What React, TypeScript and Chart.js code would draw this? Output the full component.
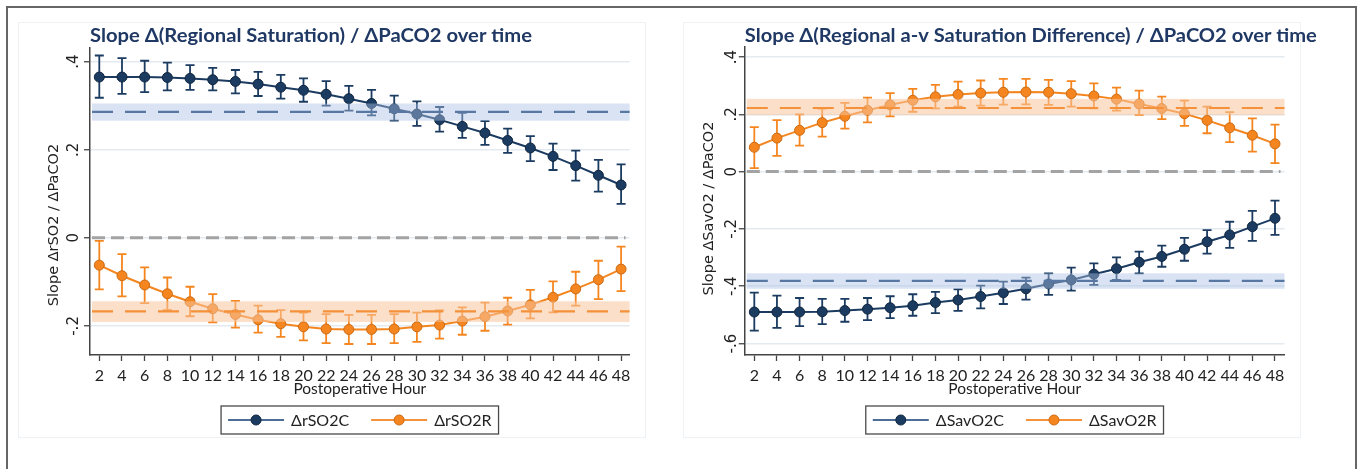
import React, { useEffect, useRef } from "react";
import { Chart, registerables } from "chart.js";
Chart.register(...registerables);

// ---------- data ----------
const HOURS = [2, 4, 6, 8, 10, 12, 14, 16, 18, 20, 22, 24, 26, 28, 30, 32, 34, 36, 38, 40, 42, 44, 46, 48];

const RSO2C = [0.365, 0.365, 0.365, 0.364, 0.362, 0.359, 0.355, 0.349, 0.342, 0.335, 0.326, 0.316, 0.305, 0.293, 0.281, 0.268, 0.253, 0.238, 0.221, 0.204, 0.185, 0.164, 0.142, 0.12];
const RSO2C_HI = [0.414, 0.408, 0.402, 0.398, 0.392, 0.386, 0.381, 0.377, 0.37, 0.362, 0.356, 0.345, 0.336, 0.323, 0.31, 0.297, 0.284, 0.265, 0.248, 0.231, 0.214, 0.198, 0.177, 0.167];
const RSO2C_LO = [0.318, 0.327, 0.331, 0.335, 0.336, 0.335, 0.328, 0.322, 0.316, 0.309, 0.3, 0.289, 0.278, 0.266, 0.254, 0.241, 0.227, 0.211, 0.193, 0.174, 0.154, 0.13, 0.105, 0.077];

const RSO2R = [-0.062, -0.086, -0.107, -0.127, -0.145, -0.161, -0.174, -0.186, -0.195, -0.202, -0.207, -0.208, -0.208, -0.207, -0.202, -0.198, -0.189, -0.179, -0.166, -0.152, -0.135, -0.116, -0.095, -0.071];
const RSO2R_HI = [-0.007, -0.037, -0.067, -0.09, -0.111, -0.128, -0.143, -0.154, -0.164, -0.17, -0.173, -0.175, -0.175, -0.173, -0.17, -0.165, -0.158, -0.147, -0.136, -0.118, -0.099, -0.077, -0.052, -0.02];
const RSO2R_LO = [-0.117, -0.133, -0.148, -0.164, -0.178, -0.192, -0.204, -0.215, -0.225, -0.233, -0.239, -0.241, -0.241, -0.239, -0.236, -0.229, -0.22, -0.211, -0.197, -0.183, -0.169, -0.154, -0.139, -0.121];

const SAVO2C = [-0.49, -0.49, -0.49, -0.489, -0.485, -0.48, -0.475, -0.468, -0.457, -0.448, -0.436, -0.423, -0.409, -0.392, -0.378, -0.358, -0.339, -0.316, -0.296, -0.271, -0.245, -0.221, -0.192, -0.163];
const SAVO2C_HI = [-0.422, -0.433, -0.441, -0.444, -0.444, -0.441, -0.435, -0.428, -0.42, -0.411, -0.398, -0.384, -0.37, -0.355, -0.335, -0.32, -0.299, -0.279, -0.258, -0.231, -0.204, -0.175, -0.137, -0.101];
const SAVO2C_LO = [-0.555, -0.545, -0.539, -0.532, -0.524, -0.518, -0.511, -0.503, -0.494, -0.486, -0.477, -0.462, -0.447, -0.43, -0.415, -0.395, -0.378, -0.355, -0.332, -0.311, -0.286, -0.266, -0.242, -0.221];

const SAVO2R = [0.085, 0.117, 0.144, 0.171, 0.193, 0.214, 0.233, 0.249, 0.261, 0.269, 0.274, 0.277, 0.278, 0.277, 0.272, 0.264, 0.253, 0.236, 0.22, 0.202, 0.179, 0.153, 0.127, 0.097];
const SAVO2R_HI = [0.155, 0.18, 0.2, 0.22, 0.24, 0.258, 0.274, 0.289, 0.303, 0.314, 0.318, 0.324, 0.324, 0.32, 0.316, 0.308, 0.293, 0.283, 0.262, 0.248, 0.227, 0.208, 0.186, 0.164];
const SAVO2R_LO = [0.012, 0.055, 0.091, 0.122, 0.15, 0.172, 0.193, 0.209, 0.221, 0.227, 0.23, 0.234, 0.235, 0.233, 0.227, 0.221, 0.213, 0.198, 0.183, 0.16, 0.134, 0.103, 0.07, 0.03];

// overall slopes (dashed) with confidence bands: [mean, lower, upper]
const LEFT_MEAN_C = [0.286, 0.266, 0.305];
const LEFT_MEAN_R = [-0.167, -0.191, -0.144];
const RIGHT_MEAN_C = [-0.381, -0.409, -0.355];
const RIGHT_MEAN_R = [0.222, 0.197, 0.254];

const LEFT_Y_TICKS = [0.4, 0.2, 0, -0.2];
const LEFT_Y_LABELS = [".4", ".2", "0", "-.2"];
const RIGHT_Y_TICKS = [0.4, 0.2, 0, -0.2, -0.4, -0.6];
const RIGHT_Y_LABELS = [".4", ".2", "0", "-.2", "-.4", "-.6"];

// ---------- styles ----------
const NAVY = "#1b3b61";
const NAVY_EDGE = "#10263f";
const NAVY_LEGEND_LINE = "#4d6d96";
const ORANGE = "#f5861f";
const ORANGE_EDGE = "#cc6a14";
const ORANGE_LEGEND_LINE = "#f5923c";
const BLUE_BAND = "rgba(170,192,228,0.45)";
const ORANGE_BAND = "rgba(248,197,157,0.55)";
const BLUE_DASH = "#5878a3";
const ORANGE_DASH = "#f4913a";
const TITLE_COLOR = "#1f3864";
const TEXT = "#222";
const AXIS = "#444";

type Series = { label: string; mean: number[]; lo: number[]; hi: number[]; color: string; edge: string; legendLine: string };
type RefLine = { vals: number[]; line: string; band: string };
type Panel = {
  title: string; titleWidth: number; yTitle: string; yTitleCenter: number;
  yTicks: number[]; yLabels: string[]; yMin: number; yMax: number; xMin: number; xMax: number;
  tickOffset: number; series: Series[]; refs: RefLine[];
  canvasLeft: number; canvasWidth: number; pad: { left: number; right: number; top: number; bottom: number };
};

const PANELS: Panel[] = [
  {
    title: "Slope \u0394(Regional Saturation) / \u0394PaCO2 over time", titleWidth: 442,
    yTitle: "Slope \u0394rSO2 / \u0394PaCO2", yTitleCenter: 225,
    yTicks: LEFT_Y_TICKS, yLabels: LEFT_Y_LABELS, yMin: -0.266, yMax: 0.431, xMin: 1.18, xMax: 48.75,
    tickOffset: 16,
    series: [
      { label: "\u0394rSO2C", mean: RSO2C, lo: RSO2C_LO, hi: RSO2C_HI, color: NAVY, edge: NAVY_EDGE, legendLine: NAVY_LEGEND_LINE },
      { label: "\u0394rSO2R", mean: RSO2R, lo: RSO2R_LO, hi: RSO2R_HI, color: ORANGE, edge: ORANGE_EDGE, legendLine: ORANGE_LEGEND_LINE },
    ],
    refs: [
      { vals: LEFT_MEAN_C, line: BLUE_DASH, band: BLUE_BAND },
      { vals: LEFT_MEAN_R, line: ORANGE_DASH, band: ORANGE_BAND },
    ],
    canvasLeft: 0, canvasWidth: 680, pad: { left: 30, right: 50.4, top: 48, bottom: 64 },
  },
  {
    title: "Slope \u0394(Regional a-v Saturation Difference) / \u0394PaCO2 over time", titleWidth: 572,
    yTitle: "Slope \u0394SavO2 / \u0394PaCO2", yTitleCenter: 208.5,
    yTicks: RIGHT_Y_TICKS, yLabels: RIGHT_Y_LABELS, yMin: -0.64, yMax: 0.436, xMin: 1.16, xMax: 48.84,
    tickOffset: 13,
    series: [
      { label: "\u0394SavO2C", mean: SAVO2C, lo: SAVO2C_LO, hi: SAVO2C_HI, color: NAVY, edge: NAVY_EDGE, legendLine: NAVY_LEGEND_LINE },
      { label: "\u0394SavO2R", mean: SAVO2R, lo: SAVO2R_LO, hi: SAVO2R_HI, color: ORANGE, edge: ORANGE_EDGE, legendLine: ORANGE_LEGEND_LINE },
    ],
    refs: [
      { vals: RIGHT_MEAN_C, line: BLUE_DASH, band: BLUE_BAND },
      { vals: RIGHT_MEAN_R, line: ORANGE_DASH, band: ORANGE_BAND },
    ],
    canvasLeft: 680, canvasWidth: 677, pad: { left: 4.8, right: 72.5, top: 46.7, bottom: 64 },
  },
];

const H = 469;
const Y_AXIS_W = 60;
const X_AXIS_H = 50;

function makeDecor(p: Panel) {
  return {
    id: "decor",
    beforeDatasetsDraw(chart: any) {
      const { ctx, chartArea: ca, scales } = chart;
      const x = scales.x, y = scales.y;
      ctx.save();
      const y0 = y.getPixelForValue(0);
      ctx.strokeStyle = "#a3a3a3";
      ctx.lineWidth = 3;
      ctx.setLineDash([13, 6]);
      ctx.beginPath();
      ctx.moveTo(ca.left + 2, y0);
      ctx.lineTo(ca.right - 4, y0);
      ctx.stroke();
      ctx.setLineDash([]);
      p.series.forEach((s) => {
        ctx.strokeStyle = s.color;
        ctx.lineWidth = 1.8;
        HOURS.forEach((h, i) => {
          const px = x.getPixelForValue(h);
          const a = y.getPixelForValue(s.lo[i]);
          const b = y.getPixelForValue(s.hi[i]);
          ctx.beginPath();
          ctx.moveTo(px, a); ctx.lineTo(px, b);
          ctx.moveTo(px - 4.5, a); ctx.lineTo(px + 4.5, a);
          ctx.moveTo(px - 4.5, b); ctx.lineTo(px + 4.5, b);
          ctx.stroke();
        });
      });
      ctx.restore();
    },
    afterDatasetsDraw(chart: any) {
      const { ctx, chartArea: ca, scales } = chart;
      const y = scales.y;
      ctx.save();
      p.refs.forEach((r) => {
        const yl = y.getPixelForValue(r.vals[1]);
        const yh = y.getPixelForValue(r.vals[2]);
        ctx.fillStyle = r.band;
        ctx.fillRect(ca.left + 2, yh, ca.right - ca.left - 2, yl - yh);
      });
      p.refs.forEach((r) => {
        const ym = y.getPixelForValue(r.vals[0]);
        ctx.strokeStyle = r.line;
        ctx.lineWidth = 2.2;
        ctx.setLineDash([21, 12]);
        ctx.beginPath();
        ctx.moveTo(ca.left + 2, ym);
        ctx.lineTo(ca.right, ym);
        ctx.stroke();
      });
      ctx.restore();
    },
    afterDraw(chart: any) {
      const { ctx, chartArea: ca, scales } = chart;
      const y = scales.y;
      ctx.save();
      // title
      ctx.font = "bold 18.5px Lato";
      ctx.fillStyle = TITLE_COLOR;
      ctx.textBaseline = "alphabetic";
      ctx.textAlign = "left";
      const tw = ctx.measureText(p.title).width;
      ctx.save();
      ctx.translate(ca.left, 42);
      ctx.scale(p.titleWidth / tw, 1);
      ctx.fillText(p.title, 0, 0);
      ctx.restore();
      // y tick labels (rotated)
      ctx.font = "15px 'DejaVu Sans'";
      ctx.fillStyle = TEXT;
      ctx.textAlign = "center";
      ctx.textBaseline = "middle";
      p.yTicks.forEach((v, i) => {
        const py = y.getPixelForValue(v);
        ctx.save();
        ctx.translate(ca.left - p.tickOffset, py);
        ctx.rotate(-Math.PI / 2);
        ctx.fillText(p.yLabels[i], 0, 0);
        ctx.restore();
      });
      // y title
      ctx.font = "14.5px 'DejaVu Sans'";
      ctx.save();
      ctx.translate(ca.left - 36, p.yTitleCenter);
      ctx.rotate(-Math.PI / 2);
      ctx.fillText(p.yTitle, 0, 0);
      ctx.restore();
      // legend
      ctx.font = "16px Lato";
      const lineLen = 56, pad = 7, gapTxt = 7, gapItem = 22;
      const widths = p.series.map((s) => ctx.measureText(s.label).width);
      const boxW = pad * 2 + gapItem + widths.reduce((a, w) => a + lineLen + gapTxt + w, 0);
      const cx = (ca.left + ca.right) / 2;
      const bx = cx - boxW / 2;
      const by = ca.bottom + 51;
      const bh = 28;
      ctx.fillStyle = "#fff";
      ctx.fillRect(bx, by, boxW, bh);
      ctx.strokeStyle = "#4a4a4a";
      ctx.lineWidth = 1.3;
      ctx.strokeRect(bx, by, boxW, bh);
      let cur = bx + pad;
      const ly = by + bh / 2;
      p.series.forEach((s, i) => {
        ctx.strokeStyle = s.legendLine;
        ctx.lineWidth = 2.2;
        ctx.beginPath();
        ctx.moveTo(cur, ly);
        ctx.lineTo(cur + lineLen, ly);
        ctx.stroke();
        ctx.fillStyle = s.color;
        ctx.beginPath();
        ctx.arc(cur + lineLen / 2, ly, 5, 0, Math.PI * 2);
        ctx.fill();
        ctx.strokeStyle = s.edge;
        ctx.lineWidth = 1;
        ctx.stroke();
        ctx.fillStyle = TEXT;
        ctx.textAlign = "left";
        ctx.textBaseline = "middle";
        ctx.fillText(s.label, cur + lineLen + gapTxt, ly + 1);
        cur += lineLen + gapTxt + widths[i] + gapItem;
      });
      ctx.restore();
    },
  };
}

function ChartPanel({ p }: { p: Panel }) {
  const ref = useRef<HTMLCanvasElement | null>(null);
  useEffect(() => {
    if (!ref.current) return;
    const chart = new Chart(ref.current, {
      type: "line",
      data: {
        datasets: p.series.map((s) => ({
          label: s.label,
          data: HOURS.map((h, i) => ({ x: h, y: s.mean[i] })),
          borderColor: s.color,
          backgroundColor: s.color,
          borderWidth: 2,
          pointRadius: 5,
          pointBackgroundColor: s.color,
          pointBorderColor: s.edge,
          pointBorderWidth: 1,
          tension: 0,
          fill: false,
        })),
      },
      options: {
        responsive: false,
        animation: false,
        devicePixelRatio: 1,
        layout: { padding: p.pad },
        plugins: { legend: { display: false }, tooltip: { enabled: false }, title: { display: false } },
        scales: {
          x: {
            type: "linear",
            min: p.xMin,
            max: p.xMax,
            afterBuildTicks: (s: any) => { s.ticks = HOURS.map((v) => ({ value: v })); },
            afterFit: (s: any) => { s.height = X_AXIS_H; },
            ticks: {
              autoSkip: false, maxRotation: 0, minRotation: 0, padding: 5,
              color: TEXT, font: { family: "Lato", size: 16 },
              callback: (v: any) => String(v),
            },
            grid: { drawOnChartArea: false, drawTicks: true, tickLength: 6, tickColor: AXIS, tickWidth: 1.3 },
            border: { color: AXIS, width: 1.5 },
            title: {
              display: true, text: "Postoperative Hour", color: TEXT,
              font: { family: "Lato", size: 15.5 }, padding: { top: 0, bottom: 6.5 },
            },
          },
          y: {
            type: "linear",
            min: p.yMin,
            max: p.yMax,
            afterBuildTicks: (s: any) => { s.ticks = p.yTicks.map((v) => ({ value: v })); },
            afterFit: (s: any) => { s.width = Y_AXIS_W; },
            ticks: { display: false },
            grid: { color: "#e3ebf0", lineWidth: 1.5, drawTicks: true, tickLength: 6, tickColor: AXIS, tickWidth: 1.3 },
            border: { color: AXIS, width: 1.5 },
          },
        },
      },
      plugins: [makeDecor(p)],
    } as any);
    return () => chart.destroy();
  }, [p]);
  return (
    <canvas
      ref={ref}
      width={p.canvasWidth}
      height={H}
      style={{ position: "absolute", left: p.canvasLeft, top: 0, width: p.canvasWidth, height: H }}
    />
  );
}

export default function App() {
  return (
    <div style={{ position: "absolute", left: 0, top: 0, width: 1357, height: H, background: "#fff", overflow: "hidden" }}>
      <div style={{ position: "absolute", left: 6, top: 6, width: 1351, height: 480, border: "2px solid #666", boxSizing: "border-box" }} />
      <div style={{ position: "absolute", left: 18, top: 22, width: 628, height: 416, border: "1px solid #eef2f4", boxSizing: "border-box" }} />
      <div style={{ position: "absolute", left: 683, top: 22, width: 618, height: 416, border: "1px solid #eef2f4", boxSizing: "border-box" }} />
      {PANELS.map((p, i) => (
        <ChartPanel key={i} p={p} />
      ))}
    </div>
  );
}
